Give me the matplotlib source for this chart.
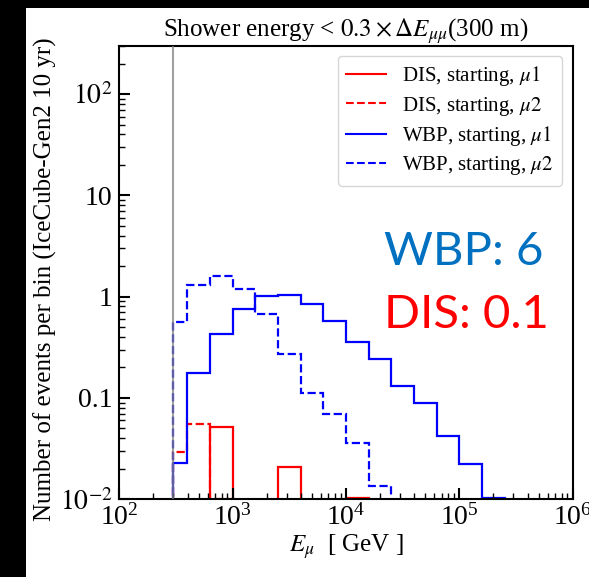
import numpy as np
import matplotlib
matplotlib.use("Agg")
import matplotlib.pyplot as plt
from matplotlib.patches import Rectangle
from matplotlib.ticker import NullFormatter

plt.rcParams['font.family'] = 'serif'
plt.rcParams['font.serif'] = ['Liberation Serif', 'DejaVu Serif']
plt.rcParams['mathtext.fontset'] = 'stix'

# bin edges (log10 of E_mu in GeV), first bin starts at 300 GeV
edges_log = [2.477, 2.6, 2.8, 3.0, 3.2, 3.4, 3.6, 3.8, 4.0,
             4.2, 4.4, 4.6, 4.8, 5.0, 5.2, 5.4]

# events per bin
dis_mu1 = [0, 0, 0.052, 0, 0, 0.021, 0, 0, 0.0103, 0, 0, 0, 0, 0, 0]
dis_mu2 = [0.029, 0.055, 0.0101, 0, 0, 0, 0, 0, 0, 0, 0, 0, 0, 0, 0]
wbp_mu1 = [0.023, 0.178, 0.43, 0.76, 1.02, 1.05, 0.85, 0.57, 0.36,
           0.243, 0.131, 0.09, 0.042, 0.0225, 0.0103]
wbp_mu2 = [0.56, 1.30, 1.60, 1.18, 0.68, 0.27, 0.112, 0.069, 0.036,
           0.0135, 0, 0, 0, 0, 0]

labels = [r"DIS, starting, $\mu1$", r"DIS, starting, $\mu2$",
          r"WBP, starting, $\mu1$", r"WBP, starting, $\mu2$"]

edges = 10 ** np.array(edges_log)

fig = plt.figure(figsize=(5.89, 5.77), dpi=100, facecolor='black')
# white canvas (the original picture is cropped with a black border top/left)
fig.patches.append(Rectangle((26 / 589, 0), 1, 1 - 8 / 577, transform=fig.transFigure,
                             facecolor='white', edgecolor='none', zorder=-10))

ax = fig.add_axes([0.2026, 0.1347, 0.7697, 0.7861])
ax.set_xscale('log')
ax.set_yscale('log')

series = [(dis_mu1, 'red', '-'), (dis_mu2, 'red', '--'),
          (wbp_mu1, 'blue', '-'), (wbp_mu2, 'blue', '--')]
handles = []
for (vals, col, ls), lab in zip(series, labels):
    ax.stairs(vals, edges, baseline=0, color=col, linestyle=ls, linewidth=1.6, label=lab)
    handles.append(plt.Line2D([], [], color=col, linestyle=ls, linewidth=1.5))

ax.axvline(300, color='grey', linewidth=1.5, alpha=0.75, zorder=5)

ax.set_xlim(1e2, 1e6)
ax.set_ylim(1e-2, 3e2)

ax.set_yticks([1e-2, 1e-1, 1, 10, 100])
ax.set_yticklabels([r'$10^{-2}$', '0.1', '1', '10', r'$10^{2}$'])
ax.yaxis.set_minor_formatter(NullFormatter())
ax.xaxis.set_minor_formatter(NullFormatter())

ax.tick_params(which='both', direction='in', top=False, right=False, labelsize=20)
ax.tick_params(which='major', length=8, width=1.5)
ax.tick_params(which='minor', length=4, width=1.0)
ax.tick_params(axis='y', pad=5)
for s in ax.spines.values():
    s.set_linewidth(1.5)

ax.set_xlabel(r"$E_\mu$  [ GeV ]", fontsize=18, labelpad=1)
ax.set_ylabel("Number of events per bin (IceCube-Gen2 10 yr)", fontsize=18, labelpad=2)
ax.yaxis.label.set_y(0.485)
ax.set_title(r"Shower energy < $0.3\times\Delta E_{\mu\mu}$(300 m)", fontsize=18, pad=6)

ax.legend(handles, labels, loc='upper right', fontsize=15, handlelength=1.9,
          labelspacing=0.3)

ax.text(0.584, 0.5165, "WBP: 6", transform=ax.transAxes, fontsize=34,
        family='Lato', color='#0070C0', va='baseline', ha='left')
ax.text(0.584, 0.378, "DIS: 0.1", transform=ax.transAxes, fontsize=34,
        family='Lato', color='#FF0000', va='baseline', ha='left')

fig.savefig("out.png", dpi=100, facecolor=fig.get_facecolor())
